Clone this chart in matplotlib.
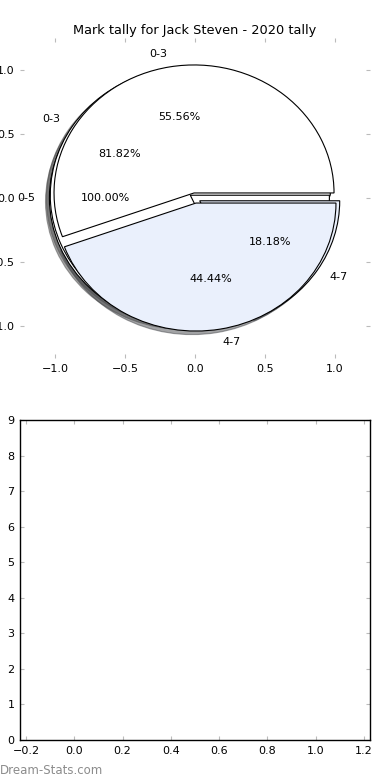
import matplotlib
matplotlib.use('Agg')
import matplotlib.pyplot as plt

# tally data, three overlaid pies
labels_a = ['0-3', '4-7']
values_a = [5, 4]
labels_b = ['0-3', '4-7']
values_b = [9, 2]
labels_c = ['0-5']
values_c = [1]

x_ticks = [-1.0, -0.5, 0.0, 0.5, 1.0]
y_ticks = [-1.0, -0.5, 0.0, 0.5, 1.0]
bar_x_ticks = [-0.2, 0.0, 0.2, 0.4, 0.6, 0.8, 1.0, 1.2]

colors = ['white', '#eaf0fc']

fig = plt.figure(figsize=(3.9, 7.8), dpi=100)
ax1 = fig.add_axes([20/390, 1-358/780, 350/390, 320/780])
ax2 = fig.add_axes([20/390, 1-740/780, 350/390, 320/780])

wp = {'edgecolor': 'black', 'linewidth': 0.8}
tp = {'fontsize': 8}
ax1.pie(values_c, labels=labels_c, autopct='%1.2f%%', colors=colors[:1],
        explode=(0.04,), shadow=True, wedgeprops=wp, textprops=tp)
ax1.pie(values_b, labels=labels_b, autopct='%1.2f%%', colors=colors,
        explode=(0.04, 0.04), shadow=True, wedgeprops=wp, textprops=tp)
ax1.pie(values_a, labels=labels_a, autopct='%1.2f%%', colors=colors,
        explode=(0.04, 0.04), shadow=True, wedgeprops=wp, textprops=tp)

ax1.set_aspect('auto')
ax1.set_frame_on(False)
ax1.set_xlim(-1.25, 1.25)
ax1.set_ylim(-1.25, 1.25)
ax1.set_xticks(x_ticks)
ax1.set_yticks(y_ticks)
ax1.set_title('Mark tally for Jack Steven - 2020 tally', fontsize=9.3, pad=3)

ax2.set_xlim(-0.225, 1.225)
ax2.set_ylim(0, 9)
ax2.set_xticks(bar_x_ticks)
ax2.set_yticks(range(10))

for ax in (ax1, ax2):
    ax.tick_params(direction='in', length=3, color='#bbbbbb', labelsize=8,
                   top=True, right=True, pad=4)
    for s in ax.spines.values():
        s.set_linewidth(1.0)

fig.text(0.0, 0.008, 'Dream-Stats.com', color='#8c8c8c', fontsize=8.5)

plt.savefig('out.png', dpi=100)
plt.close()
